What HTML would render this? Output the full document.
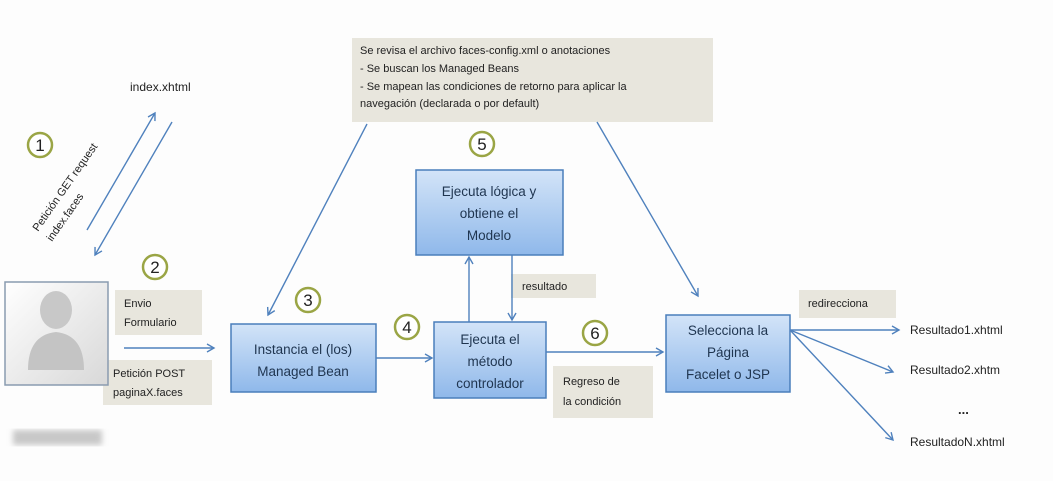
<!DOCTYPE html>
<html><head><meta charset="utf-8"><style>
html,body{margin:0;padding:0;background:#fdfdfd;}
svg{display:block;font-family:"Liberation Sans",sans-serif;}
</style></head><body>
<svg width="1053" height="481" viewBox="0 0 1053 481" xmlns="http://www.w3.org/2000/svg">
<defs>
<linearGradient id="bg" x1="0" y1="0" x2="0" y2="1"><stop offset="0" stop-color="#d3e4f8"/><stop offset="1" stop-color="#8fb8ea"/></linearGradient>
<linearGradient id="pg" x1="0" y1="0" x2="1" y2="1"><stop offset="0" stop-color="#ffffff"/><stop offset="1" stop-color="#d8d8d8"/></linearGradient>
<marker id="ar" markerWidth="10" markerHeight="10" refX="8" refY="5" orient="auto" markerUnits="userSpaceOnUse"><path d="M1,1 L8,5 L1,9" fill="none" stroke="#4f81bd" stroke-width="1.4"/></marker>
<filter id="bl"><feGaussianBlur stdDeviation="3"/></filter>
</defs>
<rect width="1053" height="481" fill="#fdfdfd"/>
<!-- note box -->
<rect x="352" y="38" width="361" height="84" fill="#e8e6dd"/>
<g font-size="11" fill="#222">
<text x="360" y="54">Se revisa el archivo faces-config.xml o anotaciones</text>
<text x="360" y="72">- Se buscan los Managed Beans</text>
<text x="360" y="90">- Se mapean las condiciones de retorno para aplicar la</text>
<text x="360" y="107">navegación (declarada o por default)</text>
</g>
<!-- labels boxes -->
<rect x="115" y="290" width="87" height="45" fill="#e8e6dd"/>
<rect x="103" y="360" width="109" height="45" fill="#e8e6dd"/>
<rect x="511" y="274" width="85" height="24" fill="#e8e6dd"/>
<rect x="553" y="366" width="100" height="52" fill="#e8e6dd"/>
<rect x="799" y="290" width="97" height="28" fill="#e8e6dd"/>
<g font-size="11" fill="#222">
<text x="124" y="307">Envio</text><text x="124" y="326">Formulario</text>
<text x="113" y="377">Petición POST</text><text x="113" y="396">paginaX.faces</text>
<text x="522" y="290">resultado</text>
<text x="563" y="385">Regreso de</text><text x="563" y="405">la condición</text>
<text x="808" y="307">redirecciona</text>
<text x="130" y="91" font-size="12">index.xhtml</text>
<text x="910" y="334" font-size="12">Resultado1.xhtml</text>
<text x="910" y="374" font-size="12">Resultado2.xhtm</text>
<text x="958" y="414" font-size="13" font-weight="bold">...</text>
<text x="910" y="446" font-size="12">ResultadoN.xhtml</text>
</g>
<text transform="translate(38,232) rotate(-55)" font-size="11" fill="#222">Petición GET request</text>
<text transform="translate(52,242) rotate(-55)" font-size="11" fill="#222">index.faces</text>
<!-- person -->
<rect x="5" y="282" width="103" height="103" fill="url(#pg)" stroke="#8a9bb0" stroke-width="1.5"/>
<ellipse cx="56" cy="310" rx="16" ry="19" fill="#c8c8c8"/>
<path d="M28,370 Q28,335 56,332 Q84,335 84,370 Z" fill="#c4c4c4"/>
<rect x="13" y="430" width="89" height="15" fill="#c8c8c8" filter="url(#bl)"/>
<!-- blue boxes -->
<g stroke="#4a7ebb" stroke-width="1.5" fill="url(#bg)">
<rect x="231" y="324" width="145" height="68"/>
<rect x="416" y="170" width="147" height="85"/>
<rect x="434" y="322" width="112" height="76"/>
<rect x="666" y="315" width="124" height="77"/>
</g>
<g font-size="13.5" fill="#1f3550" text-anchor="middle">
<text x="303" y="354">Instancia el (los)</text><text x="303" y="376">Managed Bean</text>
<text x="489" y="196">Ejecuta lógica y</text><text x="489" y="218">obtiene el</text><text x="489" y="240">Modelo</text>
<text x="490" y="344">Ejecuta el</text><text x="490" y="366">método</text><text x="490" y="388">controlador</text>
<text x="728" y="335">Selecciona la</text><text x="728" y="357">Página</text><text x="728" y="379">Facelet o JSP</text>
</g>
<!-- arrows -->
<g stroke="#4f81bd" stroke-width="1.4" fill="none" marker-end="url(#ar)">
<line x1="87" y1="230" x2="155" y2="113"/>
<line x1="172" y1="122" x2="95" y2="255"/>
<line x1="124" y1="348" x2="214" y2="348"/>
<line x1="367" y1="124" x2="268" y2="315"/>
<line x1="376" y1="358" x2="432" y2="358"/>
<line x1="469" y1="322" x2="469" y2="257"/>
<line x1="512" y1="255" x2="512" y2="320"/>
<line x1="546" y1="352" x2="663" y2="352"/>
<line x1="597" y1="122" x2="698" y2="296"/>
<line x1="790" y1="330" x2="899" y2="330"/>
<line x1="790" y1="330" x2="893" y2="372"/>
<line x1="790" y1="330" x2="893" y2="440"/>
</g>
<!-- circles -->
<g stroke="#9aa545" stroke-width="2.5" fill="#fff">
<circle cx="40" cy="145" r="12"/><circle cx="155" cy="267" r="12"/>
<circle cx="308" cy="300" r="12"/><circle cx="407" cy="327" r="12"/>
<circle cx="482" cy="144" r="12"/><circle cx="595" cy="333" r="12"/>
</g>
<g font-size="17" fill="#222" text-anchor="middle">
<text x="40" y="151">1</text><text x="155" y="273">2</text><text x="308" y="306">3</text>
<text x="407" y="333">4</text><text x="482" y="150">5</text><text x="595" y="339">6</text>
</g>
</svg>
</body></html>
